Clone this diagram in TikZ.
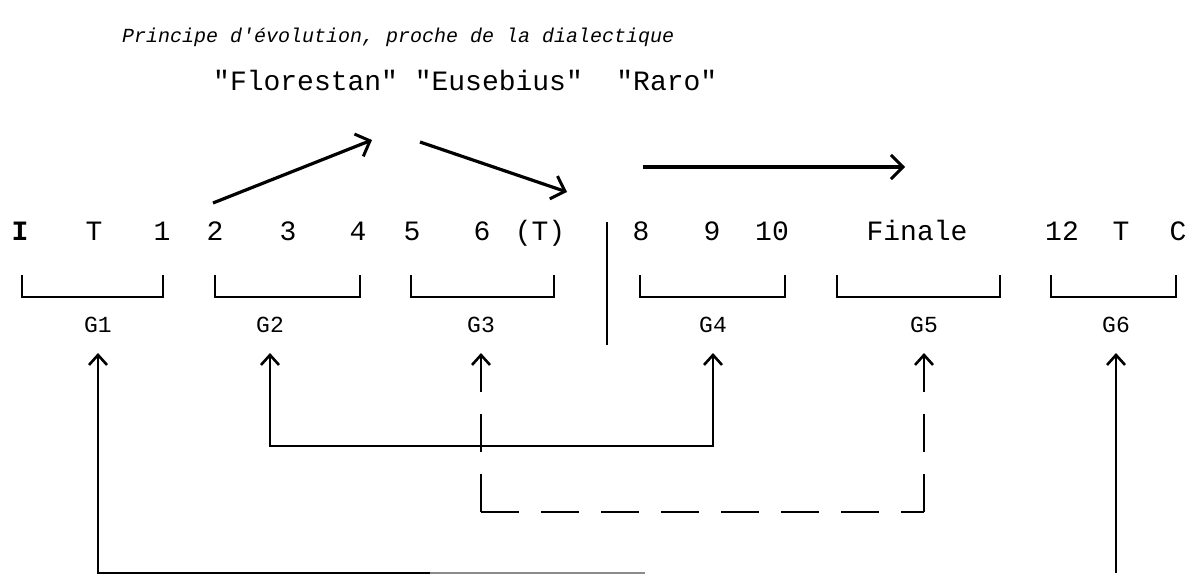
\documentclass[tikz,border=0pt]{standalone}
\usepackage{fontspec}
\setmonofont{Liberation Mono}
\usetikzlibrary{positioning,arrows.meta,calc}

\begin{document}
\begin{tikzpicture}[
  x=1pt, y=-1pt,
  font=\ttfamily\fontsize{28}{30}\selectfont,
  itm/.style={inner sep=0pt, anchor=base},
  grp/.style={inner sep=0pt, font=\ttfamily\fontsize{23}{25}\selectfont},
  brk/.style={line width=1.5pt},
  big/.style={-{Straight Barb[length=12pt,width=24pt,line width=3pt]}, line width=3.2pt},
  lnk/.style={line width=1.4pt, -{Straight Barb[length=10pt,width=18pt,line width=2.6pt]},
              shorten >=20pt},
  both/.style={line width=1.4pt,
              {Straight Barb[length=10pt,width=18pt,line width=2.6pt]}-{Straight Barb[length=10pt,width=18pt,line width=2.6pt]},
              shorten <=20pt, shorten >=20pt},
  dsh/.style={dash pattern=on 38pt off 22pt}]
\useasboundingbox (0,0) rectangle (1190,576);

% ---- titles ----
\node[inner sep=0pt, anchor=base west, font=\ttfamily\itshape\fontsize{20}{22}\selectfont]
  (title) at (122,42) {Principe d'évolution, proche de la dialectique};
\node[itm, anchor=base west] (trio) at (213,90) {"Florestan" "Eusebius"~~"Raro"};

% ---- pieces ----
\node[itm, font=\ttfamily\bfseries\fontsize{28}{30}\selectfont] (pI) at (20,240) {I};
\foreach \nm/\xx/\tx in {pT/94/T, p1/162/1, p2/215/2, p3/288/3, p4/358/4,
                         p5/412/5, p6/482/6, pTb/540/(T), p8/641/8, p9/712/9,
                         p10/772/10, pfin/917/Finale, p12/1062/12, pTc/1121/T, pC/1178/C}
  \node[itm] (\nm) at (\xx,240) {\tx};

% separator
\coordinate (septop) at (607,222);
\coordinate (sepbot) at (607,345);
\draw[line width=1.8pt] (septop) -- (sepbot);

% ---- groups ----
\foreach \n/\l/\r/\gx in {1/22/163/98, 2/215/360/270, 3/411/554/481,
                          4/640/785/713, 5/837/1000/924, 6/1051/1176/1116} {
  \draw[brk] (\l,275) -- (\l,297) -- (\r,297) -- (\r,275);
  \node[grp] (g\n) at (\gx,325) {G\n};
}

% ---- top arrows ----
\coordinate (u1) at (213,203);
\coordinate (u2) at (372,140);
\coordinate (d1) at (420,142);
\coordinate (d2) at (567,192);
\coordinate (h1) at (643,167);
\coordinate (h2) at (905,167);
\draw[big] (u1) -- (u2);
\draw[big] (d1) -- (d2);
\draw[big] (h1) -- (h2);

% ---- links between groups ----
\coordinate (ysolid) at (0,446);
\coordinate (ydash) at (0,512);
\coordinate (ybot) at (0,573);
\draw[both] (g2.south) -- (g2.south |- ysolid) -- (g4.south |- ysolid) -- (g4.south);
\coordinate (c3) at (g3.south |- ydash);
\coordinate (c5) at (g5.south |- ydash);
\draw[lnk, dsh] (c3) -- (g3.south);
\draw[line width=1.4pt, dsh] (c3) -- (c5);
\draw[lnk, dsh] (c5) -- (g5.south);
\coordinate (fade) at (430,573);
\coordinate (fadeend) at (645,573);
\draw[lnk] (fade) -- (g1.south |- ybot) -- (g1.south);
\draw[line width=1.4pt, black!45] (fade) -- (fadeend);
\draw[lnk] (g6.south |- ybot) -- (g6.south);
\end{tikzpicture}
\end{document}
